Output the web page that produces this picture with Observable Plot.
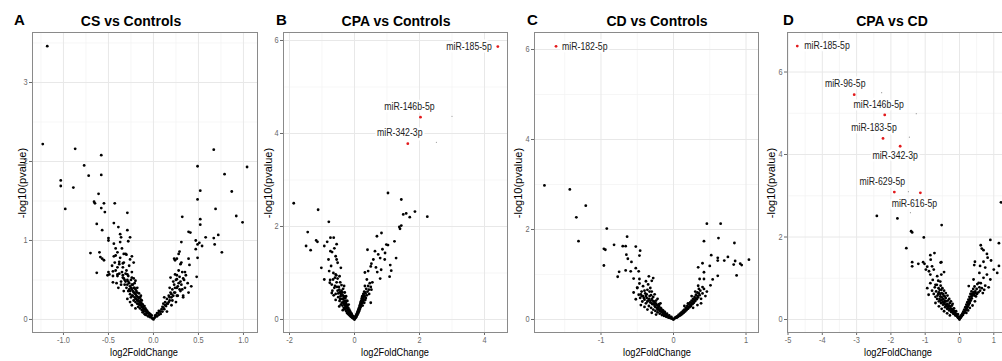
<!DOCTYPE html>
<html><head><meta charset="utf-8">
<script src="https://cdn.jsdelivr.net/npm/d3@7"></script>
<script src="https://cdn.jsdelivr.net/npm/@observablehq/plot@0.6"></script>
<style>
body{margin:0;background:#fff;overflow:hidden;font-family:"Liberation Sans",Arial,sans-serif}
#root{position:relative;width:1002px;height:361px;overflow:hidden;background:#fff}
.panel{position:absolute;top:0}
.letter{position:absolute;font-weight:bold;font-size:15px;line-height:1;color:#000}
.title{position:absolute;font-weight:bold;font-size:14px;line-height:1;white-space:nowrap;transform:translateX(-50%);color:#000}
.xlab{position:absolute;font-size:10.5px;line-height:1;white-space:nowrap;transform:translateX(-50%) scaleX(0.88);color:#000}
.ylab{position:absolute;font-size:11px;line-height:1;white-space:nowrap;transform:translate(-50%,-50%) rotate(-90deg);color:#000}
</style></head>
<body><div id="root"></div>
<script>
// ---------- DATA ----------
const panelLetters = ["A","B","C","D"];
const panelTitles = ["CS vs Controls","CPA vs Controls","CD vs Controls","CPA vs CD"];
const xLabel = "log2FoldChange";
const yLabel = "-log10(pvalue)";

const xTicksA = [-1,-0.5,0,0.5,1];
const yTicksA = [0,1,2,3];
const xTicksB = [-2,0,2,4];
const yTicksB = [0,2,4,6];
const xTicksC = [-1,0,1];
const yTicksC = [0,2,4,6];
const xTicksD = [-5,-4,-3,-2,-1,0,1];
const yTicksD = [0,2,4,6];

// Panel A points [log2FoldChange, -log10(pvalue)]
const ptsA = [
[-1.18,3.46],[-1.23,2.22],[-0.87,2.16],[-0.77,1.95],[-0.72,1.82],[-0.58,2.08],[-0.58,1.83],[-1.03,1.76],
[0.49,1.94],[0.67,2.15],[0.79,1.84],[1.04,1.93],
[-1.03,1.69],[-0.89,1.67],[-0.98,1.40],[-0.61,1.59],[-0.66,1.49],[-0.65,1.47],[-0.55,1.47],[-0.43,1.47],
[-0.58,1.41],[-0.54,1.36],[-0.29,1.35],[-0.63,1.21],[-0.44,1.22],[-0.57,1.13],[-0.39,1.17],[-0.29,1.13],
[-0.36,1.04],[-0.50,1.03],[-0.50,1.00],[-0.37,0.98],[-0.26,1.04],[-0.44,0.96],[-0.70,0.84],[-0.60,0.85],
[-0.59,0.79],[-0.57,0.77],[-0.55,0.75],[-0.63,0.59],[-0.51,0.56],[-0.42,0.90],[-0.31,0.83],[-0.24,0.80],
[-0.37,1.08],[-0.28,0.99],[-0.42,0.81],[-0.33,0.83],[-0.38,0.73],[-0.34,0.71],[-0.26,0.76],[-0.22,0.72],
[-0.49,0.57],[-0.45,0.61],[-0.40,0.57],[-0.45,0.47],[-0.34,0.53],[-0.29,0.57],[-0.24,0.53],[-0.20,0.49],
[0.52,1.63],[0.49,1.52],[0.87,1.62],[0.69,1.40],[0.92,1.31],[0.99,1.23],[0.32,1.30],[0.52,1.27],[0.52,1.20],
[0.39,1.11],[0.41,1.10],[0.58,1.04],[0.67,1.03],[0.72,1.07],[0.68,0.95],[0.76,0.85],[0.51,0.97],[0.49,0.95],
[0.47,1.00],[0.54,0.93],[0.47,0.89],[0.31,0.98],[0.29,0.86],[0.49,0.78],[0.48,0.54],[0.40,0.69],[0.24,0.75],
[0.26,0.77],[0.31,0.72],[0.39,0.77],[0.42,0.42],[0.39,0.34],[0.33,0.28],[0.23,0.77],[0.28,0.83],
[0.19,0.53],[0.24,0.57],[0.26,0.51],
[-0.42,0.62],[-0.40,0.55],[-0.38,0.70],[-0.36,0.48],[-0.35,0.60],[-0.34,0.66],[-0.33,0.52],[-0.32,0.44],
[-0.31,0.58],[-0.30,0.62],[-0.30,0.40],[-0.29,0.50],[-0.28,0.36],[-0.28,0.55],[-0.27,0.46],[-0.26,0.32],
[-0.26,0.42],[-0.25,0.50],[-0.25,0.28],[-0.24,0.38],[-0.23,0.44],[-0.23,0.30],[-0.22,0.34],[-0.22,0.24],
[-0.21,0.40],[-0.21,0.28],[-0.20,0.22],[-0.20,0.32],[-0.19,0.26],[-0.19,0.36],[-0.18,0.20],[-0.18,0.29],
[-0.17,0.24],[-0.17,0.16],[-0.16,0.27],[-0.16,0.19],[-0.15,0.22],[-0.15,0.14],[-0.14,0.18],[-0.14,0.25],
[-0.13,0.12],[-0.13,0.20],[-0.12,0.15],[-0.12,0.09],[-0.11,0.17],[-0.11,0.11],[-0.10,0.13],[-0.10,0.07],
[-0.09,0.10],[-0.08,0.06],[-0.08,0.12],[-0.07,0.08],[-0.06,0.04],[-0.06,0.09],[-0.05,0.05],[-0.04,0.03],
[-0.04,0.07],[-0.03,0.04],[-0.02,0.02],[-0.01,0.01],[0.00,0.00],[0.01,0.02],[0.02,0.03],[0.03,0.05],
[0.04,0.04],[0.05,0.08],[0.06,0.06],[0.07,0.10],[0.08,0.07],[0.09,0.13],[0.10,0.10],[0.10,0.16],[0.11,0.20],
[0.12,0.13],[0.13,0.22],[0.14,0.17],[0.15,0.26],[0.16,0.20],[0.17,0.30],[0.18,0.24],[0.19,0.34],[0.20,0.28],
[0.21,0.38],[0.22,0.30],[0.23,0.44],[0.24,0.34],[0.25,0.50],[0.26,0.40],[0.27,0.30],[0.28,0.46],[0.29,0.54],
[0.30,0.36],[0.31,0.44],[0.32,0.60],[0.34,0.50],[0.35,0.40],[0.36,0.56],[0.38,0.46],[-0.44,0.80],[-0.40,0.85],
[-0.37,0.78],[-0.33,0.72],[-0.30,0.82],[-0.27,0.68],[-0.24,0.60],[-0.22,0.52],[-0.35,0.90],[-0.45,0.55],
[-0.50,0.60],[-0.46,0.68],[-0.39,0.40],[-0.33,0.36],[-0.29,0.26],[-0.24,0.18],[-0.20,0.14],[-0.26,0.22],
[0.15,0.10],[0.20,0.18],[0.25,0.22],[0.12,0.28],[0.18,0.40],[0.22,0.48],[0.26,0.56],[0.28,0.62],[0.30,0.70],
[0.33,0.30],[-0.16,0.33],[-0.18,0.40],[-0.14,0.30],[-0.21,0.46],
[-0.34,0.56],[-0.32,0.50],[-0.31,0.48],[-0.29,0.44],[-0.28,0.48],[-0.27,0.38],[-0.26,0.36],[-0.25,0.40],
[-0.24,0.44],[-0.24,0.30],[-0.23,0.36],[-0.22,0.40],[-0.21,0.34],[-0.20,0.26],[-0.20,0.38],[-0.19,0.30],
[-0.18,0.34],[-0.18,0.24],[-0.17,0.28],[-0.17,0.20],[-0.16,0.23],[-0.15,0.18],[-0.15,0.28],[-0.14,0.21],
[-0.13,0.16],[-0.13,0.24],[-0.12,0.19],[-0.11,0.14],[-0.10,0.17],[-0.09,0.14],[-0.09,0.06],[-0.07,0.11],
[-0.05,0.08],[-0.03,0.06],[-0.02,0.05],[0.02,0.05],[0.04,0.08],[0.06,0.11],[0.08,0.10],[0.11,0.15],
[0.13,0.18],[0.15,0.20],[0.17,0.22],[0.18,0.28],[0.20,0.32],[0.21,0.24],[0.23,0.34],[0.24,0.40],[0.26,0.30],
[0.27,0.42],[0.29,0.38],[0.30,0.48],[0.32,0.38],[0.33,0.52],[0.35,0.60],[-0.36,0.44],[-0.38,0.58],
[-0.40,0.66],[-0.41,0.46],[-0.43,0.72]
];

const ptsB = [
[-1.87,2.50],[-1.12,2.36],[-0.79,2.10],[-1.44,1.88],[-1.49,1.58],[-1.35,1.49],[-1.18,1.70],[-1.14,1.67],
[-1.02,1.11],[-0.93,0.86],[-0.93,1.58],[-0.74,1.76],[-0.64,1.76],[-0.84,1.67],[-0.74,1.47],[-0.80,1.29],
[-0.55,1.62],[-0.62,1.53],[-0.69,1.45],[-0.58,1.36],[-0.55,1.29],[-0.52,1.22],[-0.72,1.15],[-0.42,1.11],
[-0.78,1.04],[-0.58,0.97],[-0.46,0.93],[-0.66,0.86],[-0.76,0.79],[-0.60,0.72],[-0.70,0.57],[-0.32,0.72],
[1.03,2.72],[1.44,2.58],[1.50,2.26],[1.59,2.28],[1.70,2.20],[1.86,2.32],[2.24,2.21],[1.38,1.99],[1.44,2.02],
[1.40,1.95],[0.83,1.86],[0.69,1.79],[1.23,1.68],[0.98,1.61],[1.03,1.60],[0.86,1.51],[0.40,1.50],[0.63,1.47],
[0.94,1.43],[0.73,1.40],[0.79,1.32],[0.93,1.29],[1.28,1.32],[0.58,1.29],[0.52,1.20],[0.50,1.14],[0.66,1.12],
[0.82,1.07],[1.10,1.17],[1.13,1.05],[1.08,0.92],[0.79,0.88],[0.42,1.04],[0.32,1.01],[0.70,1.02],[0.38,0.86],
[0.52,0.64],[0.50,0.36],[0.32,0.72],
[-0.68,0.62],[-0.62,0.68],[-0.58,0.55],[-0.55,0.80],[-0.52,0.62],[-0.50,0.48],[-0.48,0.70],[-0.46,0.40],
[-0.45,0.58],[-0.43,0.50],[-0.42,0.32],[-0.40,0.62],[-0.38,0.44],[-0.37,0.30],[-0.36,0.52],[-0.34,0.38],
[-0.33,0.25],[-0.32,0.46],[-0.30,0.34],[-0.29,0.22],[-0.28,0.40],[-0.27,0.28],[-0.26,0.18],[-0.25,0.33],
[-0.24,0.24],[-0.23,0.14],[-0.22,0.29],[-0.21,0.20],[-0.20,0.12],[-0.19,0.25],[-0.18,0.17],[-0.17,0.10],
[-0.16,0.21],[-0.15,0.14],[-0.14,0.08],[-0.13,0.17],[-0.12,0.11],[-0.11,0.06],[-0.10,0.13],[-0.09,0.08],
[-0.08,0.04],[-0.07,0.09],[-0.06,0.05],[-0.05,0.03],[-0.04,0.06],[-0.03,0.02],[-0.02,0.04],[-0.01,0.01],
[0.00,0.00],[0.01,0.02],[0.02,0.04],[0.03,0.03],[0.04,0.07],[0.05,0.05],[0.06,0.10],[0.07,0.08],[0.08,0.13],
[0.09,0.10],[0.10,0.17],[0.11,0.13],[0.12,0.21],[0.13,0.16],[0.14,0.25],[0.15,0.19],[0.16,0.30],[0.17,0.23],
[0.18,0.34],[0.19,0.27],[0.20,0.39],[0.21,0.31],[0.22,0.44],[0.23,0.35],[0.24,0.50],[0.26,0.40],[0.27,0.55],
[0.28,0.46],[0.30,0.60],[0.31,0.50],[0.33,0.42],[0.34,0.56],[0.36,0.66],[0.38,0.52],[0.40,0.60],[0.42,0.72],
[0.44,0.64],[0.47,0.78],[0.50,0.70],[0.25,0.30],[0.30,0.36],[0.35,0.46],[0.45,0.55],[0.55,0.80],[-0.60,0.90],
[-0.65,1.00],[-0.56,0.95],[-0.70,0.75],[-0.75,0.85],[-0.52,0.88],[-0.44,0.80],[-0.40,0.74],[-0.35,0.66],
[-0.30,0.58],[-0.26,0.50],[-0.22,0.40],[-0.18,0.32],[-0.47,0.28],[-0.36,0.20],[-0.58,0.42],[-0.64,0.52],
[-0.44,0.44],[-0.41,0.54],[-0.39,0.36],[-0.35,0.44],[-0.33,0.34],[-0.31,0.40],[-0.29,0.30],[-0.27,0.36],
[-0.25,0.26],[-0.23,0.30],[-0.21,0.24],[-0.19,0.20],[-0.17,0.16],[-0.15,0.18],[-0.13,0.12],[-0.11,0.10],
[-0.09,0.12],[-0.07,0.06],[-0.05,0.07],[-0.03,0.05],[0.03,0.06],[0.05,0.09],[0.07,0.12],[0.09,0.15],
[0.11,0.19],[0.13,0.22],[0.15,0.26],[0.17,0.31],[0.19,0.36],[0.21,0.40],[0.23,0.46],[0.25,0.48],[0.27,0.42],
[0.29,0.52],[0.32,0.58],[-0.54,0.70],[-0.50,0.56],[-0.47,0.64],[-0.43,0.58],[-0.37,0.58],[-0.33,0.50],
[-0.28,0.46],[-0.24,0.40]
];
const redB = [[4.41,5.87],[2.03,4.35],[1.64,3.78]];
const labB = ["miR-185-5p","miR-146b-5p","miR-342-3p"];
const faintB = [[3.0,4.37],[2.52,3.81]];

const ptsC = [
[-1.78,2.98],[-1.43,2.89],[-1.21,2.53],[-1.34,2.27],[-1.31,1.74],[-0.92,2.02],[-0.96,1.57],[-0.94,1.55],
[-0.96,1.20],[-0.82,1.66],[-0.70,1.63],[-0.64,1.84],[-0.66,1.63],[-0.52,1.62],[-0.46,1.53],[-0.47,1.42],
[-0.65,1.44],[-0.63,1.35],[-0.58,1.28],[-0.77,0.95],[-0.75,1.06],[-0.66,1.09],[-0.59,1.07],[-0.52,1.14],
[-0.48,1.07],[-0.55,0.91],[-0.47,0.90],[-0.50,0.71],[-0.45,0.56],
[0.46,2.13],[0.65,2.13],[0.42,1.74],[0.62,1.81],[0.84,1.70],[1.04,1.33],[0.52,1.43],[0.61,1.37],[0.61,1.31],
[0.75,1.39],[0.83,1.22],[0.85,1.30],[0.92,1.24],[0.94,1.21],[0.87,0.98],[0.70,1.31],[0.40,1.25],[0.34,1.16],
[0.50,1.19],[0.42,1.05],[0.61,0.97],[0.54,0.89],[0.42,0.90],[0.36,0.90],[0.51,0.76],[0.34,0.75],
[-0.48,0.55],[-0.46,0.48],[-0.44,0.62],[-0.43,0.40],[-0.42,0.52],[-0.40,0.44],[-0.39,0.58],[-0.38,0.36],
[-0.37,0.48],[-0.36,0.66],[-0.35,0.42],[-0.34,0.30],[-0.33,0.52],[-0.32,0.38],[-0.31,0.26],[-0.30,0.46],
[-0.29,0.34],[-0.28,0.22],[-0.27,0.40],[-0.26,0.30],[-0.25,0.19],[-0.24,0.35],[-0.23,0.26],[-0.22,0.16],
[-0.21,0.30],[-0.20,0.22],[-0.19,0.13],[-0.18,0.26],[-0.17,0.18],[-0.16,0.10],[-0.15,0.21],[-0.14,0.14],
[-0.13,0.08],[-0.12,0.17],[-0.11,0.11],[-0.10,0.06],[-0.09,0.13],[-0.08,0.08],[-0.07,0.04],[-0.06,0.09],
[-0.05,0.05],[-0.04,0.03],[-0.03,0.06],[-0.02,0.02],[-0.01,0.01],[0.00,0.00],[0.01,0.02],[0.02,0.03],
[0.03,0.05],[0.04,0.04],[0.05,0.07],[0.06,0.06],[0.07,0.10],[0.08,0.08],[0.09,0.13],[0.10,0.10],[0.11,0.16],
[0.12,0.12],[0.13,0.19],[0.14,0.15],[0.15,0.22],[0.16,0.18],[0.17,0.26],[0.18,0.21],[0.19,0.30],[0.20,0.24],
[0.21,0.34],[0.22,0.27],[0.23,0.38],[0.24,0.30],[0.25,0.42],[0.26,0.34],[0.27,0.46],[0.28,0.37],[0.29,0.50],
[0.30,0.41],[0.31,0.55],[0.32,0.45],[0.33,0.60],[0.34,0.49],[0.36,0.54],[0.37,0.64],[0.38,0.46],[0.40,0.58],
[0.42,0.68],[0.44,0.52],[0.46,0.62],[-0.50,0.70],[-0.47,0.80],[-0.42,0.74],[-0.38,0.85],[-0.35,0.78],
[-0.32,0.70],[-0.30,0.62],[-0.28,0.92],[-0.26,0.56],[-0.34,0.96],[-0.30,0.86],[-0.22,0.46],[-0.18,0.36],
[-0.45,0.32],[-0.40,0.28],[-0.36,0.22],[-0.30,0.15],[-0.24,0.11],[0.15,0.30],[0.20,0.36],[0.25,0.52],
[0.30,0.62],[0.35,0.68],[0.40,0.72],[0.27,0.26],[0.33,0.32],[0.38,0.36],[-0.55,0.60],[-0.52,0.45],
[-0.41,0.48],[-0.38,0.52],[-0.36,0.40],[-0.34,0.46],[-0.32,0.42],[-0.30,0.36],[-0.29,0.42],[-0.27,0.34],
[-0.26,0.38],[-0.25,0.28],[-0.23,0.32],[-0.22,0.22],[-0.21,0.26],[-0.20,0.30],[-0.19,0.19],[-0.18,0.22],
[-0.17,0.24],[-0.16,0.16],[-0.15,0.17],[-0.14,0.19],[-0.13,0.12],[-0.12,0.14],[-0.11,0.09],[-0.10,0.11],
[-0.09,0.07],[-0.07,0.07],[-0.05,0.04],[-0.03,0.03],[0.03,0.04],[0.05,0.05],[0.07,0.08],[0.09,0.10],
[0.11,0.13],[0.13,0.15],[0.15,0.18],[0.17,0.21],[0.19,0.24],[0.21,0.28],[0.23,0.32],[0.25,0.36],[0.27,0.40],
[0.29,0.44],[0.31,0.47],[0.33,0.52],[0.35,0.58],[-0.44,0.52],[-0.40,0.64],[-0.37,0.56],[-0.33,0.62],
[-0.31,0.54],[-0.28,0.50],[-0.24,0.42],[-0.20,0.34]
];
const redC = [[-1.62,6.07]];
const labC = ["miR-182-5p"];

const ptsD = [
[1.21,2.84],[-2.41,2.51],[-1.81,2.45],[-0.52,2.29],[-1.41,2.14],[-1.38,2.11],[-1.04,1.99],[-1.55,1.73],
[0.90,1.93],[1.15,1.85],[-1.38,1.39],[-1.38,1.29],[-1.20,1.35],[-1.06,1.39],[-1.02,1.35],[-0.85,1.56],
[-0.73,1.61],[-0.84,1.45],[-0.53,1.39],[-0.55,1.38],[-0.94,1.28],[-0.80,1.29],[-0.98,1.21],[-0.89,1.17],
[-0.75,1.21],[-0.85,1.09],[-0.65,1.05],[-0.53,1.09],[-0.45,1.15],[-0.94,0.76],[-0.70,0.84],[-0.56,0.92],
[-0.61,0.76],[0.62,1.80],[0.65,1.72],[0.70,1.68],[0.80,1.59],[0.82,1.50],[0.45,1.40],[0.70,1.40],[0.92,1.43],
[1.15,1.30],[0.43,1.32],[0.60,1.30],[0.75,1.26],[1.00,1.21],[1.10,1.13],[0.58,1.13],[0.80,1.09],[0.70,1.01],
[0.90,0.97],[0.41,0.97],[0.27,0.81],[0.56,0.89],[0.75,0.82],[0.85,0.78],
[-0.80,0.70],[-0.75,0.62],[-0.72,0.78],[-0.70,0.55],[-0.68,0.68],[-0.65,0.50],[-0.62,0.62],[-0.60,0.44],
[-0.58,0.72],[-0.56,0.56],[-0.54,0.40],[-0.52,0.64],[-0.50,0.48],[-0.48,0.36],[-0.46,0.58],[-0.44,0.42],
[-0.42,0.30],[-0.40,0.52],[-0.38,0.36],[-0.36,0.26],[-0.34,0.46],[-0.32,0.32],[-0.30,0.22],[-0.28,0.40],
[-0.26,0.27],[-0.24,0.18],[-0.22,0.34],[-0.20,0.22],[-0.18,0.14],[-0.16,0.27],[-0.14,0.17],[-0.12,0.10],
[-0.10,0.20],[-0.08,0.12],[-0.06,0.06],[-0.05,0.13],[-0.04,0.04],[-0.02,0.07],[-0.01,0.02],[0.00,0.00],
[0.01,0.03],[0.02,0.06],[0.04,0.05],[0.05,0.10],[0.06,0.08],[0.08,0.14],[0.10,0.11],[0.11,0.19],[0.12,0.15],
[0.14,0.24],[0.15,0.18],[0.17,0.30],[0.18,0.22],[0.20,0.36],[0.21,0.26],[0.23,0.42],[0.24,0.31],[0.26,0.48],
[0.27,0.36],[0.29,0.55],[0.30,0.40],[0.32,0.62],[0.33,0.46],[0.35,0.68],[0.36,0.51],[0.38,0.58],[0.40,0.74],
[0.42,0.62],[0.44,0.80],[0.46,0.68],[0.48,0.56],[0.50,0.74],[0.52,0.86],[0.55,0.66],[0.58,0.78],[0.60,0.70],
[0.62,0.88],[0.65,0.76],[0.68,0.64],[0.72,0.72],[0.30,0.28],[0.25,0.22],[0.20,0.16],[0.38,0.34],[0.45,0.44],
[-0.85,0.88],[-0.78,0.96],[-0.66,0.84],[-0.62,0.94],[-0.55,0.82],[-0.50,0.76],[-0.45,0.70],[-0.40,0.64],
[-0.35,0.58],[-0.30,0.50],[-0.25,0.44],[-0.20,0.38],[-0.60,0.32],[-0.52,0.26],[-0.45,0.20],[-0.36,0.15],
[-0.28,0.10],[-0.90,0.60],[-0.70,0.40],
[-0.58,0.50],[-0.55,0.46],[-0.52,0.54],[-0.49,0.42],[-0.47,0.50],[-0.45,0.38],[-0.43,0.46],[-0.41,0.36],
[-0.39,0.44],[-0.37,0.32],[-0.35,0.38],[-0.33,0.28],[-0.31,0.34],[-0.29,0.26],[-0.27,0.32],[-0.25,0.22],
[-0.23,0.26],[-0.21,0.18],[-0.19,0.24],[-0.17,0.16],[-0.15,0.20],[-0.13,0.13],[-0.11,0.14],[-0.09,0.09],
[-0.07,0.10],[-0.03,0.05],[0.03,0.05],[0.07,0.09],[0.09,0.13],[0.13,0.17],[0.16,0.22],[0.19,0.28],
[0.22,0.32],[0.25,0.38],[0.28,0.44],[0.31,0.50],[0.34,0.56],[0.37,0.62],[0.41,0.66],[0.44,0.58],[0.47,0.64],
[0.51,0.62],[-0.64,0.58],[-0.60,0.66],[-0.56,0.62],[-0.53,0.72],[-0.48,0.62],[-0.43,0.56]
];
const redD = [[-4.73,6.63],[-3.07,5.45],[-2.18,4.96],[-2.23,4.39],[-1.73,4.20],[-1.90,3.09],[-1.14,3.07]];
const labD = ["miR-185-5p","miR-96-5p","miR-146b-5p","miR-183-5p","miR-342-3p","miR-629-5p","miR-616-5p"];
const faintD = [[-2.27,5.50],[-1.26,4.99],[-1.46,4.42],[-1.49,3.10],[-1.43,2.59]];

// ---------- LAYOUT / STYLE ----------
const fmt1 = d => d.toFixed(1);
const fmt0 = d => String(d);
const panels = [
  {frame:[32,257], xDomain:[-1.344,1.156], yDomain:[-0.165,3.633], xTicks:xTicksA, yTicks:yTicksA, xf:fmt1,
   pts:ptsA, red:[], lab:[], off:[], faint:[], letterX:14, titleX:131, xlabX:144, ylabX:22},
  {frame:[283,507], xDomain:[-2.185,4.708], yDomain:[-0.28,6.172], xTicks:xTicksB, yTicks:yTicksB, xf:fmt0,
   pts:ptsB, red:redB, lab:labB, off:[[-6,0,"end"],[-11,-10,"middle"],[-8,-11,"middle"]], faint:faintB,
   letterX:276, titleX:396, xlabX:395, ylabX:268},
  {frame:[534,758], xDomain:[-1.917,1.172], yDomain:[-0.289,6.378], xTicks:xTicksC, yTicks:yTicksC, xf:fmt0,
   pts:ptsC, red:redC, lab:labC, off:[[6,0,"start"]], faint:[],
   letterX:527, titleX:657, xlabX:657, ylabX:518},
  {frame:[787,1008], xDomain:[-5.015,1.429], yDomain:[-0.315,6.958], xTicks:xTicksD, yTicks:yTicksD, xf:fmt0,
   pts:ptsD, red:redD, lab:labD,
   off:[[7,0,"start"],[-9,-11,"middle"],[-6,-10,"middle"],[-9,-11,"middle"],[-5,10,"middle"],[-12,-10,"middle"],[-6,11,"middle"]],
   faint:faintD, letterX:783, titleX:892, xlabX:898, ylabX:771}
];

const mids = t => t.slice(0,-1).map((v,i)=> (v+t[i+1])/2);
const withEnds = (t, dom) => {
  const step = t[1]-t[0];
  const m = mids(t);
  const lo = t[0]-step/2, hi = t[t.length-1]+step/2;
  if (lo > dom[0]) m.unshift(lo);
  if (hi < dom[1]) m.push(hi);
  return m;
};

const root = document.getElementById("root");
const mL = 32, mR = 1, mT = 32, mB = 29, H = 361;

panels.forEach((p, i) => {
  const width = p.frame[1] - p.frame[0] + mL + mR;
  const labels = p.red.map((d, j) => ({x:d[0], y:d[1], t:p.lab[j], dx:p.off[j][0], dy:p.off[j][1], a:p.off[j][2]}));
  const xMinor = withEnds(p.xTicks, p.xDomain), yMinor = withEnds(p.yTicks, p.yDomain);
  const chart = Plot.plot({
    width, height: H, marginLeft: mL, marginRight: mR, marginTop: mT, marginBottom: mB,
    style: {background: "transparent", fontFamily: "'Liberation Sans', Arial, sans-serif", overflow: "visible"},
    x: {domain: p.xDomain}, y: {domain: p.yDomain},
    marks: [
      Plot.gridX(xMinor, {stroke: "#f2f2f2", strokeOpacity: 1, strokeWidth: 0.7}),
      Plot.gridY(yMinor, {stroke: "#f2f2f2", strokeOpacity: 1, strokeWidth: 0.7}),
      Plot.gridX(p.xTicks, {stroke: "#e8e8e8", strokeOpacity: 1, strokeWidth: 1}),
      Plot.gridY(p.yTicks, {stroke: "#e8e8e8", strokeOpacity: 1, strokeWidth: 1}),
      Plot.axisX(p.xTicks, {tickFormat: p.xf, tickSize: 3, tickPadding: 1.5, fontSize: 8.5, color: "#6a6a6a", label: null}),
      Plot.axisY(p.yTicks, {tickFormat: fmt0, tickSize: 3, tickPadding: 2, fontSize: 8.5, color: "#6a6a6a", label: null}),
      Plot.dot(p.pts, {x: d => d[0], y: d => d[1], r: 1.4, fill: "#000", stroke: null}),
      ...labels.map(l => Plot.text([l], {x: "x", y: "y", text: "t", dx: l.dx, dy: l.dy, textAnchor: l.a,
        fontSize: 10, fill: "#222", stroke: "#fff", strokeWidth: 5, paintOrder: "stroke"})),
      Plot.dot(p.faint, {x: d => d[0], y: d => d[1], r: 0.6, fill: "#999"}),
      Plot.dot(p.red, {x: d => d[0], y: d => d[1], r: 1.4, fill: "#e31a1c"}),
      Plot.frame({stroke: "#8a8a8a", strokeWidth: 1})
    ]
  });
  const wrap = document.createElement("div");
  wrap.className = "panel";
  wrap.style.left = (p.frame[0] - mL) + "px";
  wrap.style.width = width + "px";
  wrap.appendChild(chart);
  root.appendChild(wrap);
  // horizontally condense small texts like the reference rendering
  chart.querySelectorAll("text").forEach(t => {
    const len = t.getComputedTextLength();
    if (len > 0) { t.setAttribute("textLength", (len * 0.87).toFixed(1)); t.setAttribute("lengthAdjust", "spacingAndGlyphs"); }
  });

  const letter = document.createElement("div");
  letter.className = "letter"; letter.textContent = panelLetters[i];
  letter.style.left = p.letterX + "px"; letter.style.top = "12px";
  root.appendChild(letter);
  const title = document.createElement("div");
  title.className = "title"; title.textContent = panelTitles[i];
  title.style.left = p.titleX + "px"; title.style.top = "14px";
  root.appendChild(title);
  const xl = document.createElement("div");
  xl.className = "xlab"; xl.textContent = xLabel;
  xl.style.left = p.xlabX + "px"; xl.style.top = "347px";
  root.appendChild(xl);
  const yl = document.createElement("div");
  yl.className = "ylab"; yl.textContent = yLabel;
  yl.style.left = p.ylabX + "px"; yl.style.top = "183px";
  root.appendChild(yl);
});
</script>
</body></html>
